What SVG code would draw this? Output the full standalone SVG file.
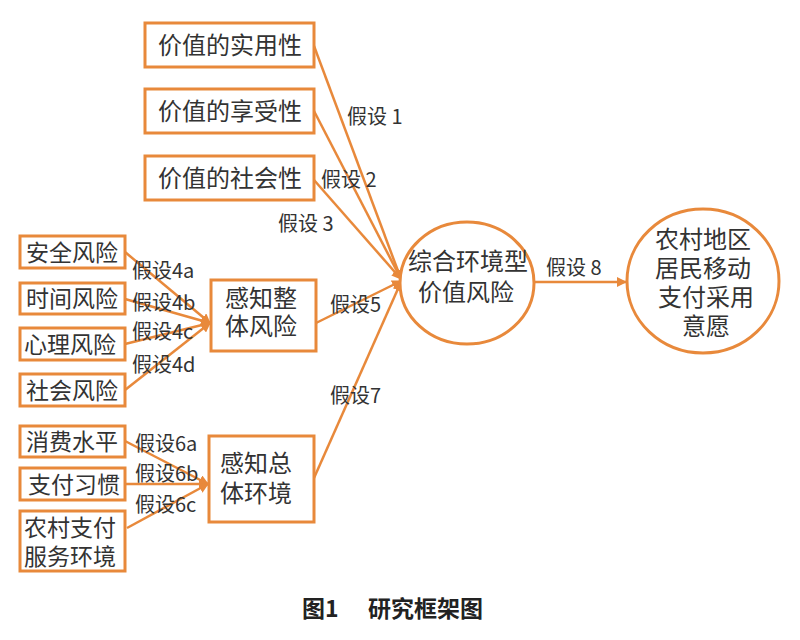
<svg xmlns="http://www.w3.org/2000/svg" width="800" height="640" viewBox="0 0 800 640">
<defs>
<style>
.b{fill:#fff;stroke:#E8893B;stroke-width:3}
.c{fill:#fff;stroke:#E8893B;stroke-width:3}
.l{stroke:#E8893B;stroke-width:2.5;fill:none}
text{font-family:"Noto Sans CJK SC","Noto Sans",sans-serif;fill:#333;font-size:23px}
.t{font-size:24px}
.h{font-size:20px}
.cap{font-size:23px;font-weight:bold;fill:#222}
</style>
<marker id="a" viewBox="0 0 10 10" refX="9" refY="5" markerWidth="4" markerHeight="4" orient="auto" markerUnits="strokeWidth">
<path d="M0,0 L10,5 L0,10 z" fill="#E8893B"/>
</marker>
</defs>
<rect width="800" height="640" fill="#fff"/>
<g id="connectors">
<line class="l" x1="314" y1="46" x2="401" y2="279" marker-end="url(#a)"/>
<line class="l" x1="314" y1="111" x2="401" y2="279" marker-end="url(#a)"/>
<line class="l" x1="314" y1="180" x2="401" y2="279" marker-end="url(#a)"/>
<line class="l" x1="316" y1="323" x2="401" y2="281" marker-end="url(#a)"/>
<line class="l" x1="314" y1="478" x2="401" y2="282" marker-end="url(#a)"/>
<line class="l" x1="125" y1="252" x2="210" y2="323" marker-end="url(#a)"/>
<line class="l" x1="125" y1="299" x2="210" y2="323" marker-end="url(#a)"/>
<line class="l" x1="125" y1="344" x2="210" y2="323" marker-end="url(#a)"/>
<line class="l" x1="125" y1="390" x2="210" y2="323" marker-end="url(#a)"/>
<line class="l" x1="125" y1="441" x2="208" y2="484" marker-end="url(#a)"/>
<line class="l" x1="125" y1="484" x2="208" y2="484" marker-end="url(#a)"/>
<line class="l" x1="127" y1="528" x2="208" y2="484" marker-end="url(#a)"/>
<line class="l" x1="535" y1="282" x2="626" y2="282" marker-end="url(#a)"/>
<text class="h" x="347" y="124">假设 1</text>
<text class="h" x="321" y="187">假设 2</text>
<text class="h" x="278" y="231">假设 3</text>
<text class="h" x="132" y="278">假设4a</text>
<text class="h" x="132" y="310">假设4b</text>
<text class="h" x="132" y="339">假设4c</text>
<text class="h" x="132" y="372">假设4d</text>
<text class="h" x="330" y="312">假设5</text>
<text class="h" x="330" y="403">假设7</text>
<text class="h" x="135" y="451">假设6a</text>
<text class="h" x="135" y="481">假设6b</text>
<text class="h" x="135" y="512">假设6c</text>
<text class="h" x="546" y="275">假设 8</text>
</g>
<g id="n1"><rect class="b" x="145" y="23" width="169" height="44"/><text class="t" x="158" y="54">价值的实用性</text></g>
<g id="n2"><rect class="b" x="145" y="89" width="169" height="44"/><text class="t" x="158" y="120">价值的享受性</text></g>
<g id="n3"><rect class="b" x="145" y="156" width="169" height="44"/><text class="t" x="158" y="187">价值的社会性</text></g>
<g id="n4"><rect class="b" x="20" y="236" width="105" height="32"/><text x="26" y="261">安全风险</text></g>
<g id="n5"><rect class="b" x="20" y="283" width="105" height="31"/><text x="26" y="307">时间风险</text></g>
<g id="n6"><rect class="b" x="20" y="328" width="105" height="32"/><text x="24" y="353">心理风险</text></g>
<g id="n7"><rect class="b" x="20" y="374" width="105" height="32"/><text x="26" y="399">社会风险</text></g>
<g id="n8"><rect class="b" x="20" y="426" width="105" height="31"/><text x="26" y="450">消费水平</text></g>
<g id="n9"><rect class="b" x="20" y="468" width="105" height="32"/><text x="28" y="493">支付习惯</text></g>
<g id="n10"><rect class="b" x="20" y="511" width="105" height="60"/><text x="24" y="536">农村支付<tspan x="24" dy="29">服务环境</tspan></text></g>
<g id="n11"><rect class="b" x="211" y="280" width="105" height="71"/><text class="t" x="225" y="307">感知整<tspan x="225" dy="28">体风险</tspan></text></g>
<g id="n12"><rect class="b" x="209" y="436" width="105" height="86"/><text class="t" x="220" y="472">感知总<tspan x="220" dy="30">体环境</tspan></text></g>
<g id="n13"><ellipse class="c" cx="467" cy="283" rx="67" ry="61"/><text class="t" x="408" y="270">综合环境型<tspan x="418" dy="31">价值风险</tspan></text></g>
<g id="n14"><ellipse class="c" cx="703" cy="281" rx="76" ry="72"/><text class="t" x="655" y="248">农村地区<tspan x="655" dy="29">居民移动</tspan><tspan x="658" dy="29">支付采用</tspan><tspan x="682" dy="29">意愿</tspan></text></g>
<text class="cap" x="302" y="617">图1</text>
<text class="cap" x="368" y="617">研究框架图</text>
</svg>
